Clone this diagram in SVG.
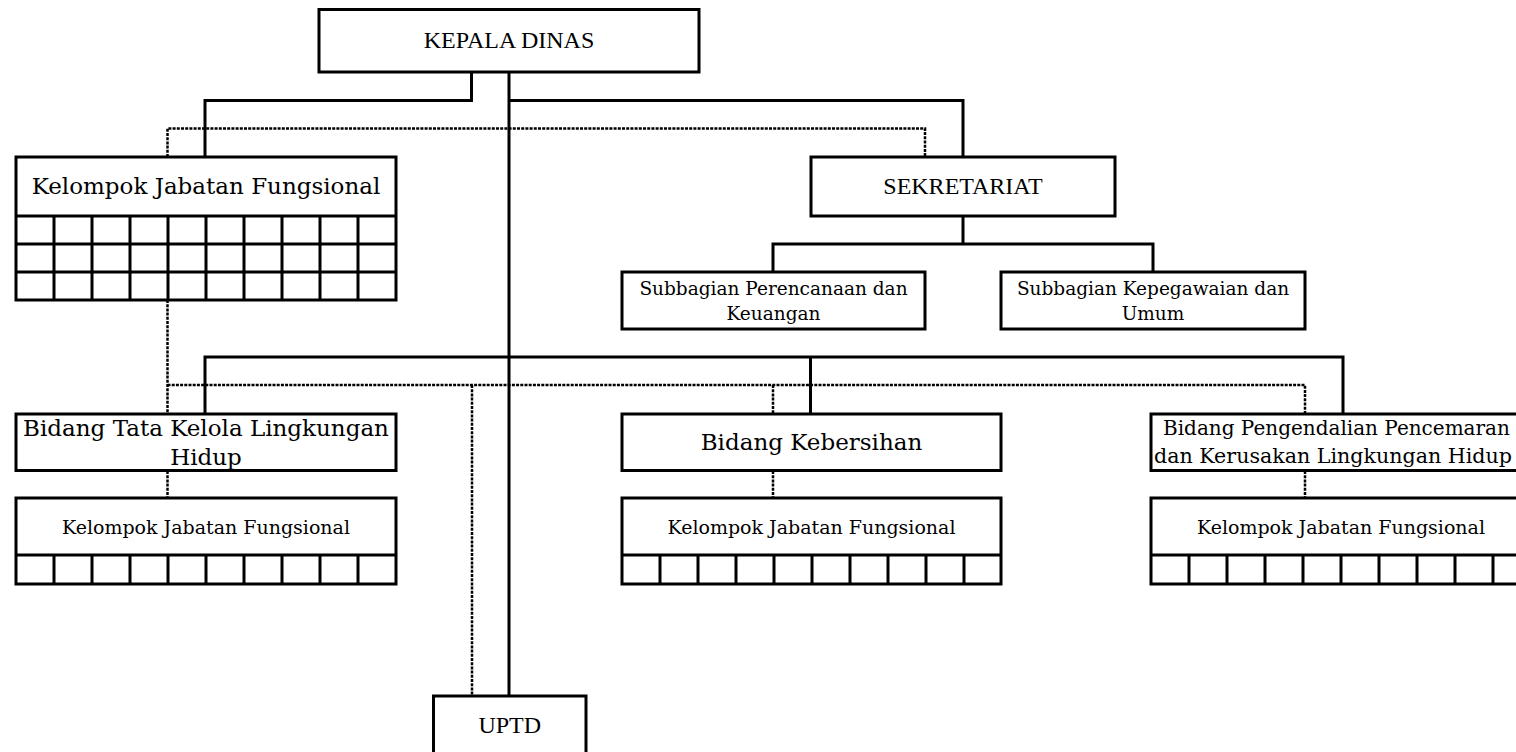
<svg xmlns="http://www.w3.org/2000/svg" width="1516" height="752" viewBox="0 0 1516 752">
<style>
.box{fill:#fff;stroke:#000;stroke-width:3}
.grid{fill:none;stroke:#000;stroke-width:3}
.solid{fill:none;stroke:#000;stroke-width:3}
.dot{fill:none;stroke:#000;stroke-width:2.5;stroke-dasharray:3 1.2}
.caps{font-family:"Liberation Serif","Times New Roman",serif;font-size:24px;text-anchor:middle;fill:#000}
.bk{font-family:"DejaVu Serif","Liberation Serif",serif;text-anchor:middle;fill:#000}
.bks{font-family:"DejaVu Serif","Liberation Serif",serif;text-anchor:start;fill:#000}
</style>
<rect width="1516" height="752" fill="#fff"/>
<g id="connectors">
  <path class="solid" d="M471.5 72V100.5H205V157"/>
  <path class="solid" d="M509 72V696"/>
  <path class="solid" d="M509 100.5H963V157"/>
  <path class="solid" d="M963 216V244M773 272V244H1153V272"/>
  <path class="solid" d="M205 414V357H1343V414M810.5 357V414"/>
  <path class="dot" d="M167.5 157V128.5H925V157"/>
  <path class="dot" d="M167.5 300V414"/>
  <path class="dot" d="M167.5 385H1305V414M472 385V696M773 385V414"/>
  <path class="dot" d="M167.5 471V498M773 471V498M1305 471V498"/>
</g>
<g id="kepala-dinas">
  <rect class="box" x="319" y="9.5" width="380" height="62.5"/>
  <text class="caps" x="509" y="48">KEPALA DINAS</text>
</g>
<g id="kjf-top">
  <rect class="box" x="16" y="157" width="380" height="143"/>
  <path class="grid" d="M16 216H396M16 244H396M16 272H396M54 216V300M92 216V300M130 216V300M168 216V300M206 216V300M244 216V300M282 216V300M320 216V300M358 216V300"/>
  <text class="bk" x="206" y="194" font-size="23">Kelompok Jabatan Fungsional</text>
</g>
<g id="sekretariat">
  <rect class="box" x="811" y="157" width="304" height="59"/>
  <text class="caps" x="963" y="194">SEKRETARIAT</text>
</g>
<g id="subbag-perencanaan">
  <rect class="box" x="622" y="272" width="303" height="57"/>
  <text class="bk" x="773.5" y="295" font-size="18.5">Subbagian Perencanaan dan</text>
  <text class="bk" x="773.5" y="320" font-size="18.5">Keuangan</text>
</g>
<g id="subbag-kepegawaian">
  <rect class="box" x="1001" y="272" width="304" height="57"/>
  <text class="bk" x="1153" y="295" font-size="18.5">Subbagian Kepegawaian dan</text>
  <text class="bk" x="1153" y="320" font-size="18.5">Umum</text>
</g>
<g id="bidang-tata-kelola">
  <rect class="box" x="16" y="414" width="380" height="56.5"/>
  <text class="bk" x="206" y="436" font-size="23">Bidang Tata Kelola Lingkungan</text>
  <text class="bk" x="206" y="465" font-size="23">Hidup</text>
</g>
<g id="bidang-kebersihan">
  <rect class="box" x="622" y="414" width="379" height="56.5"/>
  <text class="bk" x="811.5" y="450" font-size="23">Bidang Kebersihan</text>
</g>
<g id="bidang-pengendalian">
  <rect class="box" x="1151" y="414" width="380" height="56.5"/>
  <text class="bks" x="1163" y="435" font-size="20">Bidang Pengendalian Pencemaran</text>
  <text class="bks" x="1154" y="463" font-size="20.6">dan Kerusakan Lingkungan Hidup</text>
</g>
<g id="kjf-tata-kelola">
  <rect class="box" x="16" y="498" width="380" height="86"/>
  <path class="grid" d="M16 555H396M54 555V584M92 555V584M130 555V584M168 555V584M206 555V584M244 555V584M282 555V584M320 555V584M358 555V584"/>
  <text class="bk" x="206" y="534" font-size="19">Kelompok Jabatan Fungsional</text>
</g>
<g id="kjf-kebersihan">
  <rect class="box" x="622" y="498" width="379" height="86"/>
  <path class="grid" d="M622 555H1001M660 555V584M698 555V584M736 555V584M774 555V584M812 555V584M850 555V584M888 555V584M926 555V584M964 555V584"/>
  <text class="bk" x="811.5" y="534" font-size="19">Kelompok Jabatan Fungsional</text>
</g>
<g id="kjf-pengendalian">
  <rect class="box" x="1151" y="498" width="380" height="86"/>
  <path class="grid" d="M1151 555H1531M1189 555V584M1227 555V584M1265 555V584M1303 555V584M1341 555V584M1379 555V584M1417 555V584M1455 555V584M1493 555V584"/>
  <text class="bk" x="1341" y="534" font-size="19">Kelompok Jabatan Fungsional</text>
</g>
<g id="uptd">
  <rect class="box" x="433.5" y="696" width="152.5" height="70"/>
  <text class="caps" x="509.75" y="733">UPTD</text>
</g>
</svg>
